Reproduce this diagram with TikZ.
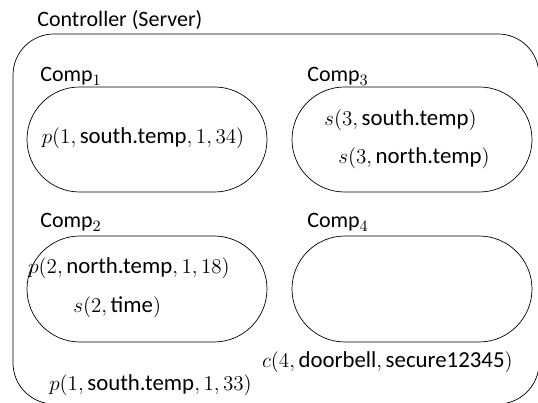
\documentclass[tikz,border=0pt]{standalone}
\usepackage{fontspec}
\setsansfont{Carlito}
\usepackage{tikz}
\usetikzlibrary{positioning, shapes.misc}
\tikzstyle{comp}=[draw, shape=rounded rectangle, minimum width=4.8cm, inner sep=0pt]
\tikzstyle{lbl}=[inner sep=0pt, anchor=base west, font=\fontsize{12.5}{15}\selectfont\sffamily]
\tikzstyle{fact}=[inner sep=0pt, anchor=west, font=\fontsize{13}{16}\selectfont]

\begin{document}
\begin{tikzpicture}
\useasboundingbox (0,0) rectangle (10.76,8.06);
% the server frame
\node[draw, rounded corners=0.82cm, minimum width=10.52cm, minimum height=7.4cm, inner sep=0pt] (srv) at (5.52,3.68) {};
\node[lbl] (srvlbl) at (0.74,7.52) {Controller (Server)};
% the four components
\node[comp, minimum height=2.1cm] (C1) at (2.94,5.27) {};
\node[comp, minimum height=2.1cm] (C3) at (8.24,5.27) {};
\node[comp, minimum height=2.12cm] (C2) at (2.94,2.28) {};
\node[comp, minimum height=2.12cm] (C4) at (8.24,2.28) {};
\node[lbl] (C1lbl) at (0.80,6.42) {Comp$_1$};
\node[lbl] (C3lbl) at (6.14,6.42) {Comp$_3$};
\node[lbl] (C2lbl) at (0.80,3.50) {Comp$_2$};
\node[lbl] (C4lbl) at (6.14,3.50) {Comp$_4$};
% the facts inside
\node[fact, anchor=center] (p1) at (2.86,5.29) {$p(1, \textsf{south.temp}, 1, 34)$};
\node[fact] (s31) at (6.48,5.66) {$s(3, \textsf{south.temp})$};
\node[fact] (s32) at (6.76,4.90) {$s(3, \textsf{north.temp})$};
\node[fact] (p2) at (0.56,2.70) {$p(2, \textsf{north.temp}, 1, 18)$};
\node[fact] (s2) at (1.46,1.92) {$s(2, \textsf{time})$};
% the facts outside
\node[fact] (p1b) at (0.98,0.36) {$p(1, \textsf{south.temp}, 1, 33)$};
\node[fact, anchor=east] (cdb) at (10.26,0.82) {$c(4, \textsf{doorbell}, \textsf{secure12345})$};
\end{tikzpicture}
\end{document}
